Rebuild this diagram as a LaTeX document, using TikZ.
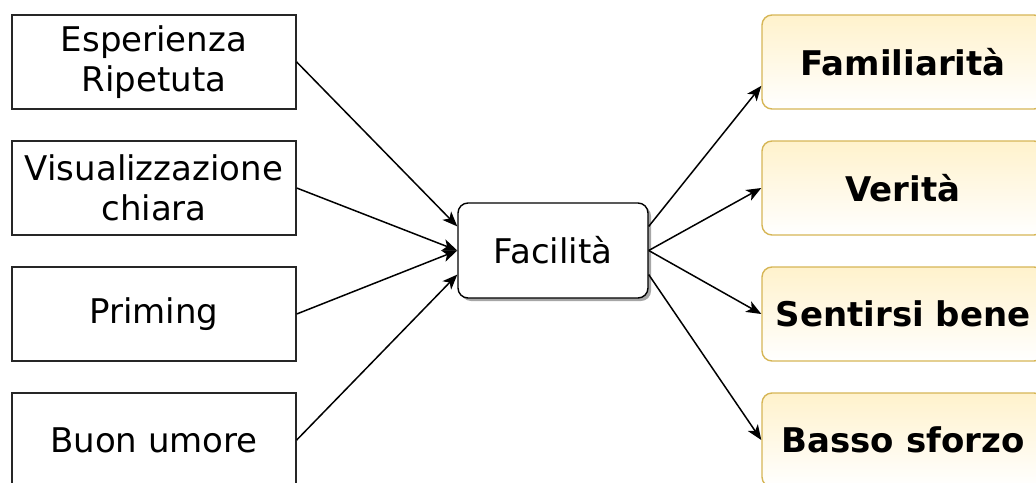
\documentclass[tikz,border=0pt]{standalone}
\usepackage{fontspec}
\setmainfont{DejaVu Sans}
\usetikzlibrary{arrows.meta,calc,shadows}
\definecolor{goldline}{HTML}{D6B656}
\definecolor{goldfill}{HTML}{FFF2CC}
\tikzset{
  cause/.style={draw=black!85, line width=1.4pt, fill=white, minimum width=284pt,
    minimum height=94pt, inner sep=0pt, align=center,
    font=\fontsize{34}{40}\selectfont},
  hub/.style={draw=black, line width=1.4pt, fill=white, rounded corners=10pt,
    minimum width=190pt, minimum height=95pt, inner sep=0pt,
    font=\fontsize{34}{40}\selectfont,
    drop shadow={shadow xshift=3pt, shadow yshift=-3pt, fill=black!50, opacity=0.7}},
  effect/.style={draw=goldline, line width=1.4pt, rounded corners=10pt,
    top color=goldfill, bottom color=white, minimum width=282pt,
    minimum height=94pt, inner sep=0pt, align=center,
    font=\fontsize{34}{40}\selectfont\bfseries},
  link/.style={draw=black, line width=1.5pt,
    -{Stealth[length=15pt,width=12pt,inset=4pt]}}
}
\begin{document}
\begin{tikzpicture}[x=1pt,y=-1pt]
  \useasboundingbox (0,0) rectangle (1036,482);
  \clip (0,0) rectangle (1036,482);

  % causes
  \node[cause] (esp) at (154,62)  {Esperienza\\Ripetuta};
  \node[cause] (vis) at (154,188) {Visualizzazione\\chiara};
  \node[cause] (pri) at (154,314) {Priming};
  \node[cause] (buo) at (154,440) {Buon umore};

  % central node
  \node[hub] (fac) at (553,250.5) {Facilit\`a};

  % effects
  \node[effect] (fam) at (903,62)  {Familiarit\`a};
  \node[effect] (ver) at (903,188) {Verit\`a};
  \node[effect] (sen) at (903,314) {Sentirsi bene};
  \node[effect] (bas) at (903,440) {Basso sforzo};

  % attachment points on the sides of the central node
  \coordinate (fw1) at ($(fac.north west)!0.25!(fac.south west)$);
  \coordinate (fw2) at (fac.west);
  \coordinate (fw3) at ($(fac.north west)!0.75!(fac.south west)$);
  \coordinate (fe1) at ($(fac.north east)!0.25!(fac.south east)$);
  \coordinate (fe2) at (fac.east);
  \coordinate (fe3) at ($(fac.north east)!0.75!(fac.south east)$);
  \coordinate (famin) at ($(fam.north west)!0.75!(fam.south west)$);

  % incoming connectors
  \draw[link] (esp.east) -- (fw1);
  \draw[link] (vis.east) -- (fw2);
  \draw[link] (pri.east) -- (fw2);
  \draw[link] (buo.east) -- (fw3);

  % outgoing connectors
  \draw[link] (fe1) -- (famin);
  \draw[link] (fe2) -- (ver.west);
  \draw[link] (fe2) -- (sen.west);
  \draw[link] (fe3) -- (bas.west);
\end{tikzpicture}
\end{document}
